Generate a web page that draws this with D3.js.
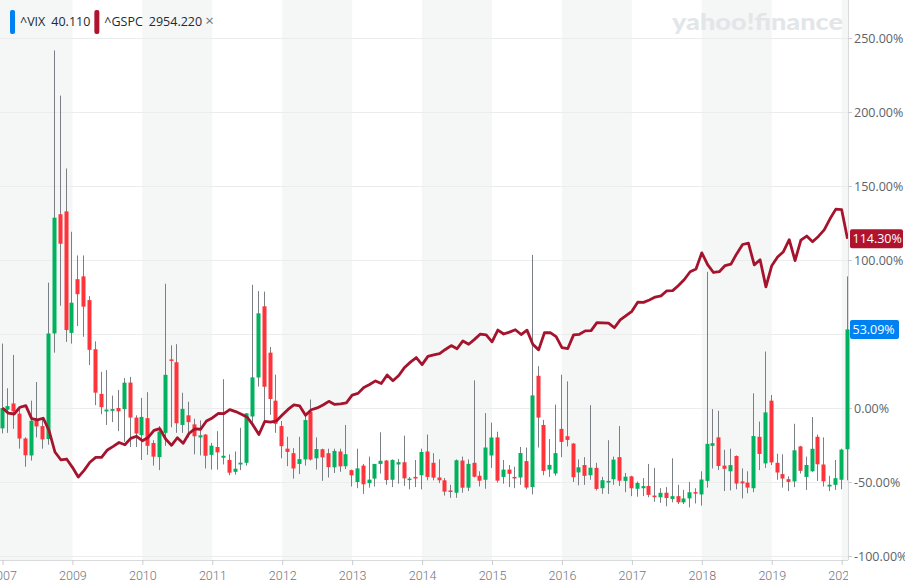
<!DOCTYPE html>
<html><head><meta charset="utf-8">
<script src="https://cdn.jsdelivr.net/npm/d3@7"></script>
<style>
html,body{margin:0;padding:0;background:#fff;}
svg{display:block;}
</style></head>
<body>
<svg id="chart" width="905" height="588"></svg>
<script>
// Monthly data, Jan 2008 .. Feb 2020 (146 months)
const startYear = 2008;
const vixBase = 26.20;      // ^VIX close Jan 2008 (0% reference)
const gspcBase = 1378.55;   // ^GSPC close Jan 2008 (0% reference)

const vixOpen = [
22.6,25.9,27.0,25.2,20.8,17.8,24.0,23.0,20.7,39.4,60.5,61.0,
39.5,49.0,49.5,45.3,36.6,28.7,25.6,25.7,26.2,26.0,30.7,24.5,
21.4,24.4,20.0,17.5,21.8,34.8,34.3,23.2,24.9,23.3,21.0,21.5,
17.9,19.3,17.4,17.0,14.9,16.2,16.5,24.7,31.6,44.2,36.0,27.5,
23.0,19.0,18.2,16.3,17.1,25.5,17.3,18.9,18.2,15.7,18.5,15.9,
15.2,13.1,16.0,12.9,13.7,16.3,16.9,13.5,16.2,16.6,13.5,14.0,
14.3,18.5,16.5,13.9,13.4,11.6,11.2,16.9,12.1,16.5,14.2,13.5,
17.8,21.0,14.0,15.3,14.0,13.9,16.8,12.2,31.9,23.2,15.3,14.6,
22.5,21.2,19.9,14.8,16.1,14.3,15.6,12.0,13.0,13.6,17.5,13.3,
14.1,11.9,12.0,12.4,10.7,10.4,11.2,10.1,10.6,9.5,10.2,11.3,
10.9,13.3,19.5,21.0,16.0,15.0,17.7,13.2,13.0,12.0,21.1,16.4,
27.5,16.5,14.5,13.6,13.2,19.4,14.0,15.0,21.1,16.2,12.3,12.6,
13.5,18.9];
const vixHigh = [
37.6,29.7,35.6,25.9,21.0,27.5,30.8,24.5,48.4,89.5,81.5,68.6,
57.4,53.2,53.2,46.0,38.0,32.6,32.9,28.4,29.4,31.5,31.7,24.9,
28.0,29.0,20.5,23.0,48.2,37.3,37.5,28.9,27.3,24.3,24.0,21.6,
20.0,22.1,31.3,18.0,18.5,22.7,25.3,48.0,46.9,46.8,37.0,32.1,
23.9,21.1,19.1,21.1,25.1,27.7,21.0,19.0,19.0,19.0,19.0,23.2,
15.3,19.0,16.3,17.6,16.3,21.9,17.0,17.1,17.2,21.3,14.0,17.0,
19.0,21.5,18.2,17.1,13.8,12.6,17.1,17.6,17.1,31.1,15.0,25.3,
23.6,22.0,17.0,16.1,15.8,19.3,19.2,53.3,33.6,24.1,20.7,26.8,
32.1,30.9,20.0,17.1,17.5,26.7,16.5,14.0,20.5,17.6,23.0,14.7,
14.2,13.2,13.8,16.3,15.6,12.0,12.2,17.3,12.6,11.7,13.1,12.0,
15.0,50.3,26.0,25.7,18.8,19.0,17.8,15.5,15.0,28.8,23.8,36.2,
28.5,18.1,18.0,14.1,23.4,19.5,17.6,24.6,21.5,21.0,14.2,17.0,
19.0,49.5];
const vixLow = [
21.7,21.8,22.5,19.0,15.8,16.9,21.0,19.0,19.7,36.0,44.3,37.9,
37.6,40.7,38.8,33.8,26.7,25.1,23.2,23.7,22.1,20.2,19.3,19.3,
17.0,17.9,16.0,15.2,19.5,22.8,21.8,21.8,21.0,18.0,17.8,15.5,
15.3,15.3,16.2,14.3,14.4,15.2,16.0,23.0,30.0,23.5,25.0,21.8,
17.3,15.9,13.7,14.5,16.0,16.9,15.3,13.3,13.9,14.7,14.9,15.4,
12.3,12.0,11.0,12.1,12.3,14.6,12.6,12.2,12.8,12.4,11.8,12.2,
11.8,13.4,13.4,12.9,10.7,10.3,10.3,11.2,11.5,13.9,12.3,11.9,
15.6,13.0,12.8,12.2,12.0,12.6,11.8,10.9,19.2,14.3,14.0,14.2,
17.5,19.4,13.1,12.5,12.6,13.5,11.6,11.0,11.0,12.6,12.4,11.3,
10.6,10.5,10.6,10.4,9.6,9.4,8.8,9.5,9.2,9.2,8.6,9.3,
8.9,12.1,15.5,15.2,11.5,11.6,11.8,10.2,11.1,11.3,15.2,15.6,
16.1,13.5,12.1,11.5,12.2,14.6,11.7,14.9,13.3,12.3,11.5,11.7,
11.8,13.4];
const vixClose = [
26.20,26.54,25.61,20.79,17.83,23.95,22.94,20.65,39.39,59.89,55.28,40.00,
44.84,46.35,44.14,36.50,28.92,26.35,25.92,26.01,25.61,30.69,24.51,21.68,
24.62,19.50,17.59,22.05,32.07,34.54,23.50,26.05,23.70,21.20,21.36,17.75,
19.53,18.35,17.74,14.75,15.45,16.52,25.25,31.62,42.96,29.96,27.80,23.40,
19.44,18.43,15.50,17.15,24.06,17.08,18.93,17.47,15.73,18.60,15.87,18.02,
14.28,15.51,12.70,13.52,16.30,16.86,13.45,17.01,16.60,13.75,13.70,13.72,
18.41,14.00,13.88,13.41,11.40,11.57,16.95,12.09,16.31,14.03,13.33,19.20,
20.97,13.34,15.29,14.55,13.84,18.23,12.12,28.43,24.50,15.07,16.13,18.21,
20.20,20.55,13.95,15.70,14.19,15.63,11.87,13.42,13.29,17.06,13.33,14.04,
11.99,12.92,12.37,10.82,10.41,11.18,10.26,10.59,9.51,10.18,11.28,11.04,
13.54,19.85,19.97,15.93,15.43,16.09,12.83,12.86,12.12,21.23,18.07,25.42,
16.57,14.78,13.71,13.12,18.71,15.08,16.12,18.98,16.24,13.22,12.62,13.78,
18.84,40.11];
const gspcClose = [
1378.55,1330.63,1322.70,1385.59,1400.38,1280.00,1267.38,1282.83,1166.36,968.75,896.24,903.25,
825.88,735.09,797.87,872.81,919.14,919.32,987.48,1020.62,1057.08,1036.19,1095.63,1115.10,
1073.87,1104.49,1169.43,1186.69,1089.41,1030.71,1101.60,1049.33,1141.20,1183.26,1180.55,1257.64,
1286.12,1327.22,1325.83,1363.61,1345.20,1320.64,1292.28,1218.89,1131.42,1253.30,1246.96,1257.60,
1312.41,1365.68,1408.47,1397.91,1310.33,1362.16,1379.32,1406.58,1440.67,1412.16,1416.18,1426.19,
1498.11,1514.68,1569.19,1597.57,1630.74,1606.28,1685.73,1632.97,1681.55,1756.54,1805.81,1848.36,
1782.59,1859.45,1872.34,1883.95,1923.57,1960.23,1930.67,2003.37,1972.29,2018.05,2067.56,2058.90,
1994.99,2104.50,2067.89,2085.51,2107.39,2063.11,2103.84,1972.18,1920.03,2079.36,2080.41,2043.94,
1940.24,1932.23,2059.74,2065.30,2096.95,2098.86,2173.60,2170.95,2168.27,2126.15,2198.81,2238.83,
2278.87,2363.64,2362.72,2384.20,2411.80,2423.41,2470.30,2471.65,2519.36,2575.26,2647.58,2673.61,
2823.81,2713.83,2640.87,2648.05,2705.27,2718.37,2816.29,2901.52,2913.98,2711.74,2760.17,2506.85,
2704.10,2784.49,2834.40,2945.83,2752.06,2941.76,2980.38,2926.46,2976.74,3037.56,3140.98,3230.78,
3225.52,2954.22];

const yTicks = [250,200,150,100,50,0,-50,-100];
const yearTickIdx = [0,12,24,36,48,60,72,84,96,108,120,132,144];
const yearTickLabels = ["2007","2009","2010","2011","2012","2013","2014","2015","2016","2017","2018","2019","2020"];
const legendItems = [{sym:"^VIX", val:"40.110", color:"#0081f2"}, {sym:"^GSPC", val:"2954.220", color:"#b0132e"}];

const svg = d3.select("#chart");
const W = 905, H = 588;
const plotR = 848, plotB = 560;
const pct = (v, b) => (v / b - 1) * 100;

const x = d3.scaleLinear().domain([0, vixClose.length - 1]).range([2.5, 847.5]);
const y = d3.scaleLinear().domain([-100, 250]).range([556, 38]);

const defs = svg.append("defs");
defs.append("clipPath").attr("id","plotclip").append("rect").attr("x",0).attr("y",0).attr("width",plotR).attr("height",H);
defs.append("clipPath").attr("id","candleclip").append("rect").attr("x",0).attr("y",0).attr("width",plotR + 2).attr("height",H);

// Year bands
const bandEdges = yearTickIdx.map(i => x(i));
const bands = [];
bands.push([0, bandEdges[1]]);
for (let k = 2; k < bandEdges.length; k += 2) {
  bands.push([bandEdges[k], k + 1 < bandEdges.length ? bandEdges[k+1] : plotR]);
}
svg.append("g").selectAll("rect").data(bands).join("rect")
  .attr("x", d => d[0]).attr("y", 0)
  .attr("width", d => d[1] - d[0]).attr("height", plotB)
  .attr("fill", "#f5f6f6");

// Horizontal grid
svg.append("g").selectAll("line").data(yTicks).join("line")
  .attr("x1", 0).attr("x2", plotR)
  .attr("y1", d => y(d) + 0.5).attr("y2", d => y(d) + 0.5)
  .attr("stroke", "#ececec").attr("stroke-width", 1);

// Watermark
svg.append("text").attr("x", 672).attr("y", 30)
  .attr("font-family", "Lato, 'Open Sans', sans-serif").attr("font-weight", 900)
  .attr("font-size", 23).attr("fill", "#e3e6e9")
  .attr("textLength", 171).attr("lengthAdjust", "spacingAndGlyphs")
  .text("yahoo!finance");

// Axes frame
svg.append("line").attr("x1", plotR + 0.5).attr("x2", plotR + 0.5).attr("y1", 0).attr("y2", plotB)
  .attr("stroke", "#d8dadc");
svg.append("line").attr("x1", 0).attr("x2", plotR).attr("y1", plotB + 0.5).attr("y2", plotB + 0.5)
  .attr("stroke", "#d8dadc");

// Y axis (right)
const yAxis = d3.axisRight(y).tickValues(yTicks).tickSize(4).tickPadding(2)
  .tickFormat(d => d.toFixed(2) + "%");
const gy = svg.append("g").attr("transform", `translate(${plotR},0)`).call(yAxis);
gy.select(".domain").remove();
gy.selectAll(".tick line").attr("stroke", "#c9ccd0");
gy.selectAll(".tick text").attr("fill", "#5b636a").attr("font-size", 12.5)
  .attr("font-family", "'Open Sans', 'Noto Sans', sans-serif");

// X axis (bottom)
const xAxis = d3.axisBottom(x).tickValues(yearTickIdx).tickSize(5).tickPadding(6)
  .tickFormat((d, i) => yearTickLabels[i]);
const gx = svg.append("g").attr("transform", `translate(0,${plotB})`).attr("clip-path","url(#plotclip)").call(xAxis);
gx.select(".domain").remove();
gx.selectAll(".tick line").attr("stroke", "#c9ccd0");
gx.selectAll(".tick text").attr("fill", "#6e767e").attr("font-size", 12.5)
  .attr("font-family", "'Roboto', 'Open Sans', sans-serif").attr("font-weight", 300);

// Candles
const candles = vixClose.map((c, i) => ({
  i, o: pct(vixOpen[i], vixBase), h: pct(vixHigh[i], vixBase),
  l: pct(vixLow[i], vixBase), c: pct(c, vixBase)
}));
const cg = svg.append("g").attr("clip-path","url(#candleclip)");
cg.selectAll("line.wick").data(candles).join("line").attr("class","wick")
  .attr("x1", d => Math.round(x(d.i)) - 0.5).attr("x2", d => Math.round(x(d.i)) - 0.5)
  .attr("y1", d => y(d.h)).attr("y2", d => y(d.l))
  .attr("stroke", "#7a7f85").attr("stroke-width", 1);
const bw = 4;
cg.selectAll("rect.body").data(candles).join("rect").attr("class","body")
  .attr("x", d => Math.round(x(d.i)) - 0.5 - bw/2)
  .attr("y", d => y(Math.max(d.o, d.c)))
  .attr("width", bw)
  .attr("height", d => Math.max(1.5, Math.abs(y(d.o) - y(d.c))))
  .attr("fill", d => d.c >= d.o ? "#00b15d" : "#ff333a");

// S&P line
const line = d3.line().x((d, i) => x(i)).y(d => y(pct(d, gspcBase))).curve(d3.curveLinear);
svg.append("path").datum(gspcClose).attr("d", line)
  .attr("fill", "none").attr("stroke", "#a5132d").attr("stroke-width", 2.8)
  .attr("stroke-linejoin", "round").attr("clip-path","url(#plotclip)");

// End value labels
function endLabel(val, color, w) {
  const yy = y(val);
  const g = svg.append("g");
  g.append("rect").attr("x", 850).attr("y", yy - 9.5).attr("width", w).attr("height", 19)
    .attr("rx", 2).attr("fill", color);
  g.append("text").attr("x", 852.5).attr("y", yy + 4.5).attr("fill", "#fff")
    .attr("font-size", 12.5).attr("font-family", "'Open Sans', 'Noto Sans', sans-serif")
    .text(val.toFixed(2) + "%");
}
endLabel(pct(gspcClose[gspcClose.length-1], gspcBase), "#b0132e", 53);
endLabel(pct(vixClose[vixClose.length-1], vixBase), "#0081f2", 49);

// Legend
const lg = svg.append("g").attr("font-family", "'Open Sans', 'Noto Sans', sans-serif").attr("font-size", 12.5);
let lx = 10;
legendItems.forEach((it, k) => {
  lg.append("rect").attr("x", lx).attr("y", 10).attr("width", 5).attr("height", 24).attr("rx", 2).attr("fill", it.color);
  const t = lg.append("text").attr("x", lx + 10).attr("y", 26).attr("fill", "#232a31");
  t.append("tspan").text(it.sym);
  t.append("tspan").attr("dx", 6).text(it.val);
  const tw = t.node().getComputedTextLength();
  lx = lx + 10 + tw + 10;
  if (k === legendItems.length - 1) {
    lg.append("text").attr("x", lx - 1).attr("y", 26).attr("fill", "#6e767e").attr("font-size", 15).text("×");
  }
});
</script>
</body></html>
